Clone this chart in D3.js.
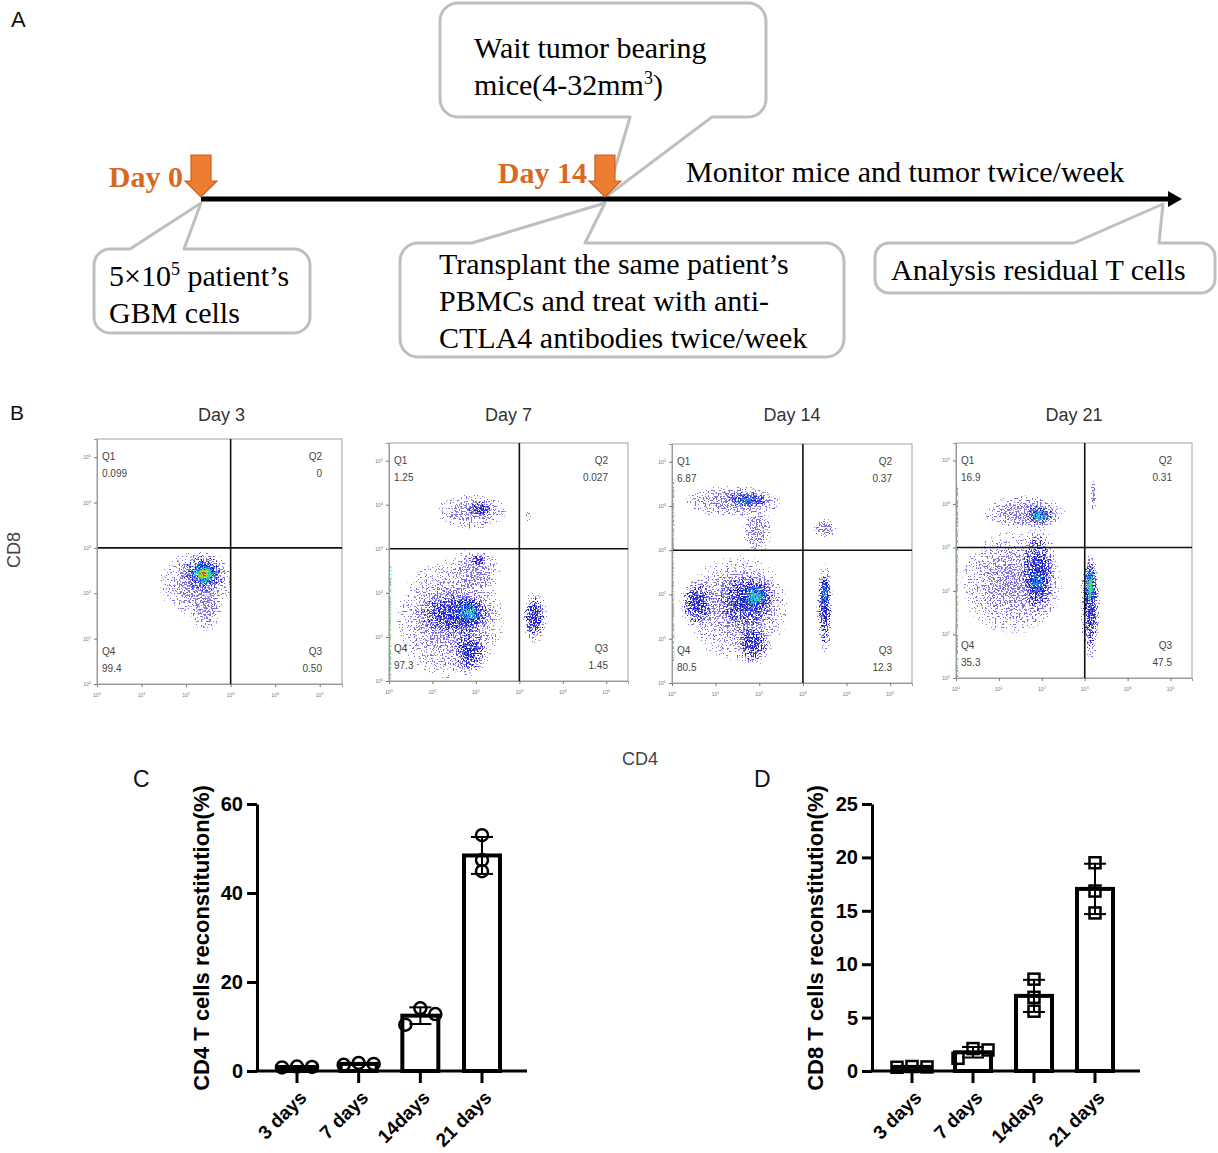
<!DOCTYPE html>
<html><head><meta charset="utf-8">
<script src="https://cdn.jsdelivr.net/npm/d3@7"></script>
<style>body{margin:0;background:#fff}svg{display:block}</style>
</head><body>
<svg id="chart" width="1218" height="1153"></svg>
<script>
// ================= DATA =================
// Panel A – timeline
const timelineMarks = [{label:"Day 0", day:0}, {label:"Day 14", day:14}];
const timelineEndDay = 34;
const monitorText = "Monitor mice and tumor twice/week";
const calloutTexts = [
  ["5×10^5 patient’s", "GBM cells"],
  ["Wait tumor bearing", "mice(4-32mm^3)"],
  ["Transplant the same patient’s", "PBMCs and treat with anti-", "CTLA4 antibodies twice/week"],
  ["Analysis residual T cells"]
];
const calloutDays = [0, 14, 14, 34];

// Panel B – flow cytometry
const flowTitles = ["Day 3", "Day 7", "Day 14", "Day 21"];
const quadrantNames = ["Q1", "Q2", "Q3", "Q4"];
const quadrantValues = [
  ["0.099", "0", "0.50", "99.4"],
  ["1.25", "0.027", "1.45", "97.3"],
  ["6.87", "0.37", "12.3", "80.5"],
  ["16.9", "0.31", "47.5", "35.3"]
];
const flowDecades = [0, 1, 2, 3, 4, 5];
const flowGate = 3; // log10 gate for CD4 and CD8
// clusters: [log CD4 centre, log CD8 centre, spread CD4 (decades), spread CD8 (decades), density level]
const clustersDay3 = [
  [2.2, 2.2, 0.85, 0.75, 0],
  [2.45, 1.7, 0.35, 0.6, 0],
  [2.4, 2.42, 0.62, 0.52, 6],
  [2.45, 2.45, 0.3, 0.3, 4]
];
const clustersDay7 = [
  [1.4, 1.4, 1.3, 1.45, 0],
  [2.0, 2.5, 0.6, 0.55, 0],
  [1.5, 1.5, 1.05, 0.65, 1],
  [1.85, 0.7, 0.45, 0.6, 1],
  [2.05, 2.75, 0.22, 0.16, 1],
  [1.85, 1.55, 0.5, 0.45, 3],
  [1.9, 3.85, 0.85, 0.42, 0],
  [2.1, 3.9, 0.35, 0.22, 1],
  [3.35, 1.45, 0.3, 0.65, 1],
  [3.2, 3.75, 0.08, 0.15, 0]
];
const clustersDay14 = [
  [1.5, 1.7, 1.25, 1.25, 0],
  [1.4, 4.1, 1.15, 0.38, 0],
  [1.95, 3.45, 0.35, 0.55, 0],
  [3.5, 3.5, 0.3, 0.22, 0],
  [0.6, 1.8, 0.45, 0.6, 1],
  [1.85, 0.9, 0.45, 0.55, 1],
  [1.7, 1.85, 0.85, 0.75, 1],
  [1.9, 1.95, 0.5, 0.5, 3],
  [1.75, 4.15, 0.65, 0.25, 2],
  [3.5, 1.7, 0.2, 1.1, 1],
  [3.5, 2.0, 0.14, 0.55, 2]
];
const clustersDay21 = [
  [1.3, 2.2, 1.25, 1.25, 0],
  [1.6, 3.8, 1.0, 0.42, 0],
  [3.2, 4.2, 0.07, 0.45, 0],
  [1.9, 2.4, 0.5, 1.15, 1],
  [1.9, 2.2, 0.35, 0.45, 2],
  [1.95, 3.75, 0.45, 0.3, 3],
  [3.13, 1.6, 0.24, 1.3, 1],
  [3.13, 2.1, 0.22, 0.8, 4]
];
const flowClusters = [clustersDay3, clustersDay7, clustersDay14, clustersDay21];
// events piled on the axes: [CD4 range on bottom edge], [CD8 range on left edge]
const bottomPiles = [[1.5, 2.9], [0, 3.3], [0, 3.6], [1.0, 3.4]];
const leftPiles = [null, [0, 2.6], [0.5, 4.6], [0, 4.4]];

// Panels C / D – bar charts
const barCategories = ["3 days", "7 days", "14days", "21 days"];
const cd4Values = [[0.8, 1.0, 0.9], [1.4, 1.8, 1.6], [10.4, 14.1, 12.8], [53.0, 47.4, 44.9]];
const cd8Values = [[0.35, 0.42, 0.38], [1.19, 2.1, 1.97], [8.6, 6.9, 5.6], [19.5, 16.85, 14.8]];
const cd4Ticks = [0, 20, 40, 60];
const cd8Ticks = [0, 5, 10, 15, 20, 25];

// ================= DRAWING =================
const svg = d3.select("#chart");
const defs = svg.append("defs");
const SERIF = "'Liberation Serif','Times New Roman',serif";
const SANS = "'Liberation Sans',Arial,sans-serif";

function panelLetter(t, x, y, size) {
  svg.append("text").attr("x", x).attr("y", y).attr("font-family", SANS)
    .attr("font-size", size).attr("fill", "#111").text(t);
}
panelLetter("A", 11, 27, 22);
panelLetter("B", 10, 420, 21);
panelLetter("C", 133, 787, 23);
panelLetter("D", 754, 787, 23);

// ---------- Panel A ----------
const tx = d3.scaleLinear().domain([0, timelineEndDay]).range([201, 1182]);
const lineY = 199;

function addTextLines(g, lines, x, y0, dy) {
  lines.forEach((ln, i) => {
    const t = g.append("text").attr("x", x).attr("y", y0 + i * dy)
      .attr("font-family", SERIF).attr("font-size", 30).attr("fill", "#000");
    const parts = ln.split("^");
    t.append("tspan").text(parts[0]);
    if (parts.length > 1) {
      t.append("tspan").attr("font-size", 18).attr("dy", -11).text(parts[1][0]);
      t.append("tspan").attr("dy", 11).text(parts[1].slice(1));
    }
  });
}

function calloutPath(b) {
  const {x, y, w, h, r, side, b0, b1, tip} = b;
  let p = `M${x + r},${y}`;
  if (side === "top") p += `L${b0},${y}L${tip[0]},${tip[1]}L${b1},${y}`;
  p += `L${x + w - r},${y}A${r},${r} 0 0 1 ${x + w},${y + r}L${x + w},${y + h - r}A${r},${r} 0 0 1 ${x + w - r},${y + h}`;
  if (side === "bottom") p += `L${b1},${y + h}L${tip[0]},${tip[1]}L${b0},${y + h}`;
  p += `L${x + r},${y + h}A${r},${r} 0 0 1 ${x},${y + h - r}L${x},${y + r}A${r},${r} 0 0 1 ${x + r},${y}Z`;
  return p;
}
const calloutBoxes = [
  {x: 94, y: 249, w: 216, h: 84, r: 16, side: "top", b0: 130, b1: 184, tipDy: 4, tx: 109, ty: 286},
  {x: 440, y: 3, w: 326, h: 114, r: 18, side: "bottom", b0: 630, b1: 712, tipDy: -3, tx: 474, ty: 58},
  {x: 400, y: 243, w: 444, h: 114, r: 18, side: "top", b0: 472, b1: 585, tipDy: 4, tx: 439, ty: 274},
  {x: 875, y: 243, w: 340, h: 50, r: 14, side: "top", b0: 1074, b1: 1159, tipDy: 5, tx: 891, ty: 280}
];
const gA = svg.append("g");
calloutBoxes.forEach((b, i) => {
  b.tip = [tx(calloutDays[i]) + (i === 3 ? -19 : (i === 1 ? 2 : 0)), lineY + b.tipDy];
  gA.append("path").attr("d", calloutPath(b)).attr("fill", "#fff")
    .attr("stroke", "#bfbfbf").attr("stroke-width", 3).attr("stroke-linejoin", "round");
  addTextLines(gA, calloutTexts[i], b.tx, b.ty, 37);
});
gA.append("line").attr("x1", tx(0)).attr("x2", tx(timelineEndDay) - 12)
  .attr("y1", lineY).attr("y2", lineY).attr("stroke", "#000").attr("stroke-width", 5);
gA.append("path").attr("d", `M${tx(timelineEndDay) - 14},${lineY - 8}L${tx(timelineEndDay)},${lineY}L${tx(timelineEndDay) - 14},${lineY + 8}Z`)
  .attr("fill", "#000");
gA.append("text").attr("x", 686).attr("y", 182).attr("font-family", SERIF)
  .attr("font-size", 30).text(monitorText);
timelineMarks.forEach(m => {
  const x = tx(m.day);
  const top = 155, tip = 197;
  gA.append("path").attr("d", `M${x - 10},${top}L${x + 10},${top}L${x + 10},${top + 26}L${x + 16},${top + 26}L${x},${tip}L${x - 16},${top + 26}L${x - 10},${top + 26}Z`)
    .attr("fill", "#ed7d31").attr("stroke", "#c8601a").attr("stroke-width", 1.2);
  gA.append("text").attr("x", x - 18).attr("y", m.day === 0 ? 187 : 183)
    .attr("text-anchor", "end").attr("font-family", SERIF).attr("font-weight", "bold")
    .attr("font-size", 30).attr("fill", "#d9691f").text(m.label);
});

// ---------- Panel B ----------
const levelColors = ["#8070e0", "#1c24cc", "#1f86e6", "#2fd2c6", "#4ee06a", "#f2d22a", "#e8421c"];
const levelScale = [1, 0.8, 0.6, 0.45, 0.32, 0.22, 0.12];
const levelDensity = [0.56, 0.64, 0.68, 0.72, 0.8, 0.9, 1.0];
const prof = defs.append("radialGradient").attr("id", "prof");
[["0%", 1], ["40%", 0.82], ["75%", 0.45], ["100%", 0]].forEach(s =>
  prof.append("stop").attr("offset", s[0]).attr("stop-color", "#000").attr("stop-opacity", s[1]));
levelColors.forEach((c, i) => {
  const f = defs.append("filter").attr("id", "sp" + i).attr("filterUnits", "userSpaceOnUse")
    .attr("x", 0).attr("y", 380).attr("width", 1218).attr("height", 340)
    .attr("color-interpolation-filters", "sRGB");
  f.append("feTurbulence").attr("type", "fractalNoise").attr("baseFrequency", 0.62)
    .attr("numOctaves", 1).attr("seed", 11 + i * 5).attr("result", "n");
  f.append("feColorMatrix").attr("in", "n").attr("type", "matrix")
    .attr("values", "0 0 0 0 0  0 0 0 0 0  0 0 0 0 0  2.6 0 0 0 -0.8").attr("result", "nA");
  f.append("feComposite").attr("in", "SourceAlpha").attr("in2", "nA").attr("operator", "arithmetic")
    .attr("k1", 0).attr("k2", levelDensity[i]).attr("k3", 1).attr("k4", -1.03).attr("result", "m0");
  f.append("feComponentTransfer").attr("in", "m0").attr("result", "m")
    .append("feFuncA").attr("type", "linear").attr("slope", 18).attr("intercept", 0);
  f.append("feFlood").attr("flood-color", c).attr("result", "col");
  f.append("feComposite").attr("in", "col").attr("in2", "m").attr("operator", "in");
});
{
  const f = defs.append("filter").attr("id", "spPile").attr("filterUnits", "userSpaceOnUse")
    .attr("x", 0).attr("y", 380).attr("width", 1218).attr("height", 340)
    .attr("color-interpolation-filters", "sRGB");
  f.append("feTurbulence").attr("type", "fractalNoise").attr("baseFrequency", 0.7)
    .attr("numOctaves", 1).attr("seed", 3).attr("result", "n");
  f.append("feColorMatrix").attr("in", "n").attr("type", "matrix")
    .attr("values", "0 0 0 0 0  0 0 0 0 0  0 0 0 0 0  12 0 0 0 -5.2").attr("result", "m");
  f.append("feComposite").attr("in", "SourceGraphic").attr("in2", "m").attr("operator", "in");
}
const pileGrad = defs.append("linearGradient").attr("id", "pileH");
[["0%", "#3b6de0"], ["35%", "#2fc0a0"], ["65%", "#c8d840"], ["100%", "#3b6de0"]]
  .forEach(s => pileGrad.append("stop").attr("offset", s[0]).attr("stop-color", s[1]));
const pileGradV = defs.append("linearGradient").attr("id", "pileV").attr("x1", 0).attr("x2", 0).attr("y1", 0).attr("y2", 1);
[["0%", "#3bb0a0"], ["60%", "#8fd060"], ["100%", "#3bb0a0"]]
  .forEach(s => pileGradV.append("stop").attr("offset", s[0]).attr("stop-color", s[1]));

const frames = [
  {x: 97, y: 439, w: 245, h: 245},
  {x: 389, y: 443, w: 239, h: 238},
  {x: 672, y: 444, w: 240, h: 239},
  {x: 956, y: 443, w: 236, h: 235}
];
frames.forEach((fr, i) => {
  const g = svg.append("g");
  const x = d3.scaleLinear().domain([0, 5.5]).range([fr.x, fr.x + fr.w]);
  const y = d3.scaleLinear().domain([0, 5.4]).range([fr.y + fr.h, fr.y]);
  const cid = "clip" + i;
  defs.append("clipPath").attr("id", cid).append("rect")
    .attr("x", fr.x).attr("y", fr.y).attr("width", fr.w).attr("height", fr.h);
  g.append("rect").attr("x", fr.x).attr("y", fr.y).attr("width", fr.w).attr("height", fr.h)
    .attr("fill", "#fff").attr("stroke", "#a0a0a0").attr("stroke-width", 1);
  const dots = g.append("g").attr("clip-path", `url(#${cid})`);
  const maxL = d3.max(flowClusters[i], c => c[4]);
  for (let L = 0; L <= maxL; L++) {
    const lg = dots.append("g").attr("filter", `url(#sp${L})`);
    flowClusters[i].filter(c => c[4] >= L).forEach(c => {
      lg.append("ellipse").attr("cx", x(c[0])).attr("cy", y(c[1]))
        .attr("rx", x(c[2] * levelScale[L]) - x(0)).attr("ry", y(0) - y(c[3] * levelScale[L]))
        .attr("fill", "url(#prof)");
    });
  }
  const bp = bottomPiles[i];
  dots.append("line").attr("x1", x(bp[0])).attr("x2", x(bp[1]))
    .attr("y1", fr.y + fr.h - 1).attr("y2", fr.y + fr.h - 1)
    .attr("stroke", "url(#pileH)").attr("stroke-width", 2.5).attr("opacity", i === 0 ? 0.35 : 0.85)
    .attr("filter", "url(#spPile)");
  if (leftPiles[i]) {
    dots.append("line").attr("x1", fr.x + 1).attr("x2", fr.x + 1.01)
      .attr("y1", y(leftPiles[i][1])).attr("y2", y(leftPiles[i][0]))
      .attr("stroke", "url(#pileV)").attr("stroke-width", 2.5).attr("opacity", 0.8)
      .attr("filter", "url(#spPile)");
  }
  g.append("line").attr("x1", x(flowGate)).attr("x2", x(flowGate)).attr("y1", fr.y).attr("y2", fr.y + fr.h)
    .attr("stroke", "#111").attr("stroke-width", 1.6);
  g.append("line").attr("x1", fr.x).attr("x2", fr.x + fr.w).attr("y1", y(flowGate)).attr("y2", y(flowGate))
    .attr("stroke", "#111").attr("stroke-width", 1.6);
  const ax = d3.axisBottom(x).tickValues(flowDecades).tickSize(3).tickFormat("");
  const ay = d3.axisLeft(y).tickValues(flowDecades).tickSize(3).tickFormat("");
  const gx = g.append("g").attr("transform", `translate(0,${fr.y + fr.h})`).call(ax);
  const gy = g.append("g").attr("transform", `translate(${fr.x},0)`).call(ay);
  [gx, gy].forEach(a => { a.select(".domain").attr("stroke", "#999"); a.selectAll("line").attr("stroke", "#777"); });
  flowDecades.forEach(d => {
    const t1 = g.append("text").attr("x", x(d)).attr("y", fr.y + fr.h + 13).attr("text-anchor", "middle")
      .attr("font-family", SANS).attr("font-size", 5).attr("fill", "#777");
    t1.append("tspan").text("10"); t1.append("tspan").attr("dy", -2).attr("font-size", 4).text(d);
    const t2 = g.append("text").attr("x", fr.x - 6).attr("y", y(d) + 2).attr("text-anchor", "end")
      .attr("font-family", SANS).attr("font-size", 5).attr("fill", "#777");
    t2.append("tspan").text("10"); t2.append("tspan").attr("dy", -2).attr("font-size", 4).text(d);
  });
  const qPos = [
    [fr.x + 5, fr.y + 21, "start"], [fr.x + fr.w - 20, fr.y + 21, "end"],
    [fr.x + fr.w - 20, fr.y + fr.h - 29, "end"], [fr.x + 5, fr.y + fr.h - 29, "start"]
  ];
  quadrantNames.forEach((q, k) => {
    const [qx, qy, anc] = qPos[k];
    g.append("text").attr("x", qx).attr("y", qy).attr("text-anchor", anc)
      .attr("font-family", SANS).attr("font-size", 10).attr("fill", "#444").text(q);
    g.append("text").attr("x", qx).attr("y", qy + 17).attr("text-anchor", anc)
      .attr("font-family", SANS).attr("font-size", 10).attr("fill", "#444").text(quadrantValues[i][k]);
  });
  g.append("text").attr("x", fr.x + fr.w / 2 + (i === 0 ? 2 : 0)).attr("y", 421).attr("text-anchor", "middle")
    .attr("font-family", SANS).attr("font-size", 18).attr("fill", "#333").text(flowTitles[i]);
});
svg.append("text").attr("transform", "translate(20,550) rotate(-90)").attr("text-anchor", "middle")
  .attr("font-family", SANS).attr("font-size", 18).attr("fill", "#444").text("CD8");
svg.append("text").attr("x", 640).attr("y", 765).attr("text-anchor", "middle")
  .attr("font-family", SANS).attr("font-size", 18).attr("fill", "#444").text("CD4");

// ---------- Panels C & D ----------
function barPanel(opt) {
  const g = svg.append("g");
  const y = d3.scaleLinear().domain([0, d3.max(opt.ticks)]).range([opt.y0, opt.yTop]);
  const x = d3.scalePoint().domain(barCategories).range([opt.ax + 40, opt.xEnd - 45]);
  const stats = opt.values.map(v => ({mean: d3.mean(v), sd: d3.deviation(v), v}));
  g.selectAll(".bar").data(stats).join("rect")
    .attr("x", (d, i) => x(barCategories[i]) - 18).attr("width", 36)
    .attr("y", d => y(d.mean)).attr("height", d => y(0) - y(d.mean))
    .attr("fill", "#fff").attr("stroke", "#000").attr("stroke-width", 4);
  const r = 6, spread = 15;
  stats.forEach((s, i) => {
    const cx = x(barCategories[i]);
    const py = s.v.map(y);
    let minD = Infinity;
    py.forEach((a, j) => py.forEach((b, k) => { if (j < k) minD = Math.min(minD, Math.abs(a - b)); }));
    const doSpread = minD < 10;
    s.v.forEach((v, j) => {
      const px = cx + (doSpread ? (j - (s.v.length - 1) / 2) * spread : 0);
      if (opt.marker === "circle") {
        g.append("circle").attr("cx", px).attr("cy", y(v)).attr("r", r)
          .attr("fill", "none").attr("stroke", "#000").attr("stroke-width", 2.5);
      } else {
        g.append("rect").attr("x", px - 5.5).attr("y", y(v) - 5.5).attr("width", 11).attr("height", 11)
          .attr("fill", "none").attr("stroke", "#000").attr("stroke-width", 2.5);
      }
    });
    g.append("line").attr("x1", cx).attr("x2", cx).attr("y1", y(s.mean - s.sd)).attr("y2", y(s.mean + s.sd))
      .attr("stroke", "#000").attr("stroke-width", 2);
    [s.mean - s.sd, s.mean + s.sd].forEach(e => g.append("line")
      .attr("x1", cx - 11).attr("x2", cx + 11).attr("y1", y(e)).attr("y2", y(e))
      .attr("stroke", "#000").attr("stroke-width", 2));
  });
  const ya = g.append("g").attr("transform", `translate(${opt.ax},0)`)
    .call(d3.axisLeft(y).tickValues(opt.ticks).tickSize(10).tickSizeOuter(0).tickPadding(4));
  ya.select(".domain").attr("stroke-width", 3);
  ya.selectAll(".tick line").attr("stroke-width", 3);
  ya.selectAll("text").attr("font-family", SANS).attr("font-weight", "bold").attr("font-size", 20).attr("fill", "#000");
  g.append("line").attr("x1", opt.ax - 1.5).attr("x2", opt.xEnd).attr("y1", opt.y0).attr("y2", opt.y0)
    .attr("stroke", "#000").attr("stroke-width", 3);
  barCategories.forEach(c => {
    g.append("line").attr("x1", x(c)).attr("x2", x(c)).attr("y1", opt.y0).attr("y2", opt.y0 + 12)
      .attr("stroke", "#000").attr("stroke-width", 3);
    g.append("text").attr("transform", `translate(${x(c) + 6},${opt.y0 + 23}) rotate(-45)`)
      .attr("text-anchor", "end").attr("dy", "0.35em").attr("font-family", SANS)
      .attr("font-weight", "bold").attr("font-size", 19).text(c);
  });
  g.append("text").attr("transform", `translate(${opt.labelX},938) rotate(-90)`).attr("text-anchor", "middle")
    .attr("font-family", SANS).attr("font-weight", "bold").attr("font-size", 22).text(opt.label);
}
barPanel({values: cd4Values, ticks: cd4Ticks, ax: 257, xEnd: 527, y0: 1071, yTop: 804,
  marker: "circle", label: "CD4 T cells reconstitution(%)", labelX: 209});
barPanel({values: cd8Values, ticks: cd8Ticks, ax: 872, xEnd: 1140, y0: 1071, yTop: 804,
  marker: "square", label: "CD8 T cells reconstitution(%)", labelX: 823});
</script>
</body></html>
